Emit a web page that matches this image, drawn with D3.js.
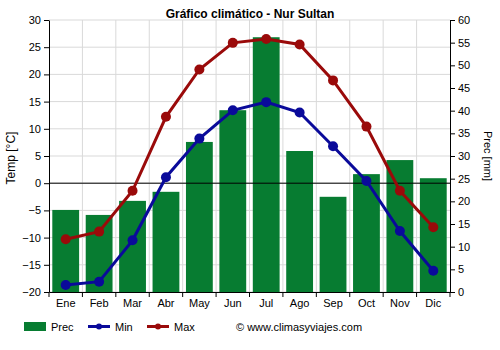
<!DOCTYPE html>
<html><head><meta charset="utf-8">
<script src="https://cdn.jsdelivr.net/npm/d3@7"></script>
<style>body{margin:0;background:#fff}text{font-family:"Liberation Sans",Arial,sans-serif}</style>
</head><body><svg id="c" width="500" height="350"></svg>
<script>
const months = ["Ene","Feb","Mar","Abr","May","Jun","Jul","Ago","Sep","Oct","Nov","Dic"];
const prec = [18.1,17.0,20.1,22.1,33.1,40.1,56.2,31.1,21.0,26.0,29.1,25.1];
const tMin = [-18.7,-18.1,-10.5,1.1,8.2,13.4,14.9,13.0,6.8,0.4,-8.8,-16.1];
const tMax = [-10.3,-8.9,-1.4,12.2,20.9,25.8,26.5,25.5,18.9,10.4,-1.4,-8.1];
const tempTicks = [-20,-15,-10,-5,0,5,10,15,20,25,30];
const precTicks = [0,5,10,15,20,25,30,35,40,45,50,55,60];

const svg = d3.select("#c");
const L=49, R=450, T=20, B=292;
const xs = d3.scaleBand().domain(months).range([L,R]);
const yT = d3.scaleLinear().domain([-20,30]).range([B,T]);
const yP = d3.scaleLinear().domain([0,60]).range([B,T]);

// grid
const g = svg.append("g");
g.selectAll(".hg").data(tempTicks).join("line")
  .attr("x1",L).attr("x2",R).attr("y1",d=>yT(d)).attr("y2",d=>yT(d))
  .attr("stroke","#d9d9d9").attr("stroke-width",1);
g.selectAll(".vg").data(months.slice(1)).join("line")
  .attr("x1",d=>xs(d)).attr("x2",d=>xs(d)).attr("y1",T).attr("y2",B)
  .attr("stroke","#d9d9d9").attr("stroke-width",1);

// bars
svg.append("g").selectAll("rect").data(prec).join("rect")
  .attr("x",(d,i)=>xs(months[i])+3.3).attr("width",xs.bandwidth()-6.6)
  .attr("y",d=>yP(d)).attr("height",d=>B-yP(d)).attr("fill","#077c31");

// zero line
svg.append("line").attr("x1",L).attr("x2",R).attr("y1",yT(0)).attr("y2",yT(0)).attr("stroke","#000").attr("stroke-width",1);

// axes
const axL = svg.append("g").attr("transform",`translate(${L},0)`)
  .call(d3.axisLeft(yT).tickValues(tempTicks).tickSize(5).tickSizeOuter(0));
const axR = svg.append("g").attr("transform",`translate(${R},0)`)
  .call(d3.axisRight(yP).tickValues(precTicks).tickSize(5).tickSizeOuter(0));
const axB = svg.append("g").attr("transform",`translate(0,${B})`)
  .call(d3.axisBottom(xs).tickSize(0).tickSizeOuter(0));
axB.selectAll("text").attr("dy","1.1em");
svg.append("g").selectAll("line").data(months).join("line")
  .attr("x1",d=>xs(d)).attr("x2",d=>xs(d)).attr("y1",B).attr("y2",B+5).attr("stroke","#000");
svg.append("line").attr("x1",R).attr("x2",R).attr("y1",B).attr("y2",B+5).attr("stroke","#000");
[axL,axR,axB].forEach(a=>{
  a.selectAll("text").attr("font-size",11).attr("fill","#000").attr("font-family","Liberation Sans, Arial, sans-serif");
  a.selectAll("path,line").attr("stroke","#000");
});

// lines
const line = d3.line().x((d,i)=>xs(months[i])+xs.bandwidth()/2).y(d=>yT(d));
function series(data,color){
  svg.append("path").datum(data).attr("d",line).attr("fill","none").attr("stroke",color).attr("stroke-width",3);
  svg.append("g").selectAll("circle").data(data).join("circle")
    .attr("cx",(d,i)=>xs(months[i])+xs.bandwidth()/2).attr("cy",d=>yT(d)).attr("r",5).attr("fill",color);
}
series(tMin,"#0a0a9a");
series(tMax,"#9a0a0a");

// title & labels
svg.append("text").attr("x",250).attr("y",18).attr("text-anchor","middle").attr("font-size",12).attr("font-weight","bold").text("Gráfico climático - Nur Sultan");
svg.append("text").attr("transform","translate(15,158) rotate(-90)").attr("text-anchor","middle").attr("font-size",12).text("Temp [°C]");
svg.append("text").attr("transform","translate(484,156) rotate(90)").attr("text-anchor","middle").attr("font-size",11).text("Prec [mm]");

// legend
const lg = svg.append("g");
lg.append("rect").attr("x",24).attr("y",322).attr("width",22).attr("height",9).attr("fill","#077c31");
lg.append("text").attr("x",51).attr("y",331).attr("font-size",11).text("Prec");
lg.append("line").attr("x1",88).attr("x2",110).attr("y1",326.5).attr("y2",326.5).attr("stroke","#0a0a9a").attr("stroke-width",3);
lg.append("circle").attr("cx",99).attr("cy",326.5).attr("r",3).attr("fill","#0a0a9a");
lg.append("text").attr("x",115).attr("y",331).attr("font-size",11).text("Min");
lg.append("line").attr("x1",147).attr("x2",169).attr("y1",326.5).attr("y2",326.5).attr("stroke","#9a0a0a").attr("stroke-width",3);
lg.append("circle").attr("cx",158).attr("cy",326.5).attr("r",3).attr("fill","#9a0a0a");
lg.append("text").attr("x",174).attr("y",331).attr("font-size",11).text("Max");
lg.append("text").attr("x",236).attr("y",331).attr("font-size",11).text("© www.climasyviajes.com");
</script></body></html>
